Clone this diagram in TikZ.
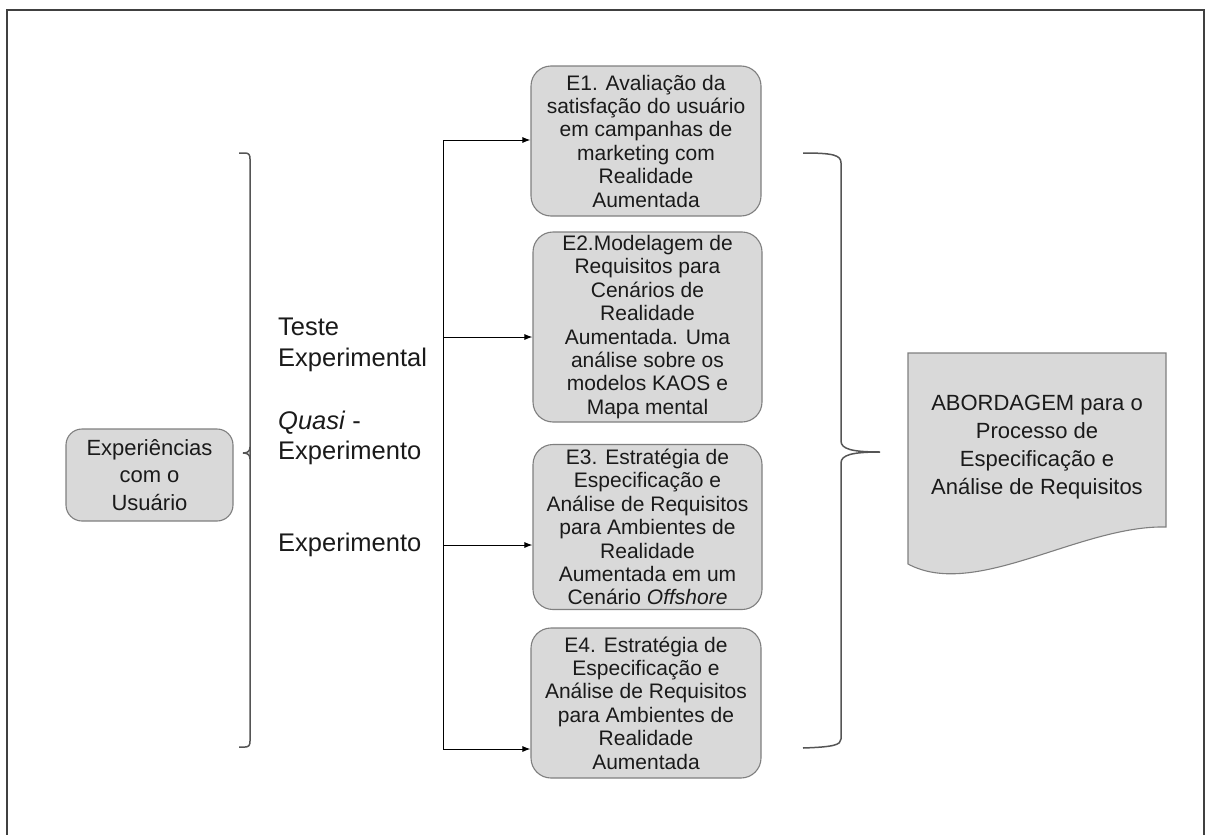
\documentclass[tikz,border=0pt]{standalone}
\usepackage{fontspec}
\setmainfont{Liberation Sans}
\usetikzlibrary{arrows.meta}
\definecolor{boxfill}{HTML}{D9D9D9}
\definecolor{boxline}{HTML}{7F7F7F}
\definecolor{inkc}{HTML}{1A1A1A}
\definecolor{bracec}{HTML}{555555}
\begin{document}
\begin{tikzpicture}[x=1pt,y=-1pt,
  every node/.style={text=inkc},
  stagebox/.style={draw=boxline,line width=1.1pt,fill=boxfill,rounded corners=20pt,
    align=center,inner sep=0pt,font=\fontsize{21}{23.4}\selectfont},
  sidebox/.style={draw=boxline,line width=1.1pt,fill=boxfill,rounded corners=16pt,
    align=center,inner sep=0pt,font=\fontsize{22}{27.5}\selectfont},
  kindlabel/.style={align=left,anchor=west,inner sep=0pt,font=\fontsize{25.5}{30.5}\selectfont},
  trunk/.style={line width=1pt,draw=black},
  feed/.style={line width=1pt,draw=black,-{Latex[length=8pt,width=6pt]}},
  brace/.style={line width=1.5pt,draw=bracec}]
\useasboundingbox (0,0) rectangle (1205,835);
% outer frame, open at the bottom
\draw[line width=1.8pt,draw=black!75] (7,840) -- (7,10) -- (1204,10) -- (1204,840);

% left box
\node[sidebox,minimum width=167pt,minimum height=92pt] (user) at (149.5,475)
  {Experiências\\com o\\Usuário};

% left bracket
\draw[brace] (239,153) -- (245,153) .. controls (249,153) and (250,155) .. (250,159)
  -- (250,741) .. controls (250,745) and (249,747) .. (245,747) -- (239,747);
\draw[brace] (250,447) .. controls (250,451) and (248,453) .. (243,453);
\draw[brace] (250,459) .. controls (250,455) and (248,453) .. (243,453);

% study kinds
\node[kindlabel] (teste) at (278,345) {Teste\\Experimental};
\node[kindlabel] (quasi) at (278,438) {\textit{Quasi} -\\Experimento};
\node[kindlabel] (exper) at (278,545) {Experimento};

% studies
\node[stagebox,minimum width=230pt,minimum height=150pt] (e1) at (646,141)
  {E1. Avaliação da\\satisfação do usuário\\em campanhas de\\marketing com\\Realidade\\Aumentada};
\node[stagebox,minimum width=229pt,minimum height=190pt] (e2) at (647.5,327)
  {E2.Modelagem de\\Requisitos para\\Cenários de\\Realidade\\Aumentada. Uma\\análise sobre os\\modelos KAOS e\\Mapa mental};
\node[stagebox,minimum width=229pt,minimum height=165pt] (e3) at (647.5,527)
  {E3. Estratégia de\\Especificação e\\Análise de Requisitos\\para Ambientes de\\Realidade\\Aumentada em um\\Cenário \textit{Offshore}};
\node[stagebox,minimum width=230pt,minimum height=150pt] (e4) at (646,703)
  {E4. Estratégia de\\Especificação e\\Análise de Requisitos\\para Ambientes de\\Realidade\\Aumentada};

% trunk and feeds
\coordinate (t1) at (443,140);
\coordinate (t2) at (443,337);
\coordinate (t3) at (443,545);
\coordinate (t4) at (443,749);
\draw[trunk] (t1) -- (t4);
\draw[feed] (t1) -- (t1 -| e1.west);
\draw[feed] (t2) -- (t2 -| e2.west);
\draw[feed] (t3) -- (t3 -| e3.west);
\draw[feed] (t4) -- (t4 -| e4.west);

% right bracket
\draw[brace] (803,153) .. controls (833,153) and (841,155) .. (841,163)
  -- (841,441) .. controls (841,449) and (852,452) .. (880,452)
  .. controls (852,452) and (841,455) .. (841,463)
  -- (841,739) .. controls (841,745) and (833,747) .. (803,748);

% result document
\draw[draw=boxline,line width=1.1pt,fill=boxfill]
  (908,353) -- (1166,353) -- (1166,527)
  .. controls (1080,525) and (975,600) .. (908,564) -- cycle;
\node[align=center,inner sep=0pt,font=\fontsize{22}{27.8}\selectfont] (doc) at (1037,447)
  {ABORDAGEM para o\\Processo de\\Especificação e\\Análise de Requisitos};
\end{tikzpicture}
\end{document}
